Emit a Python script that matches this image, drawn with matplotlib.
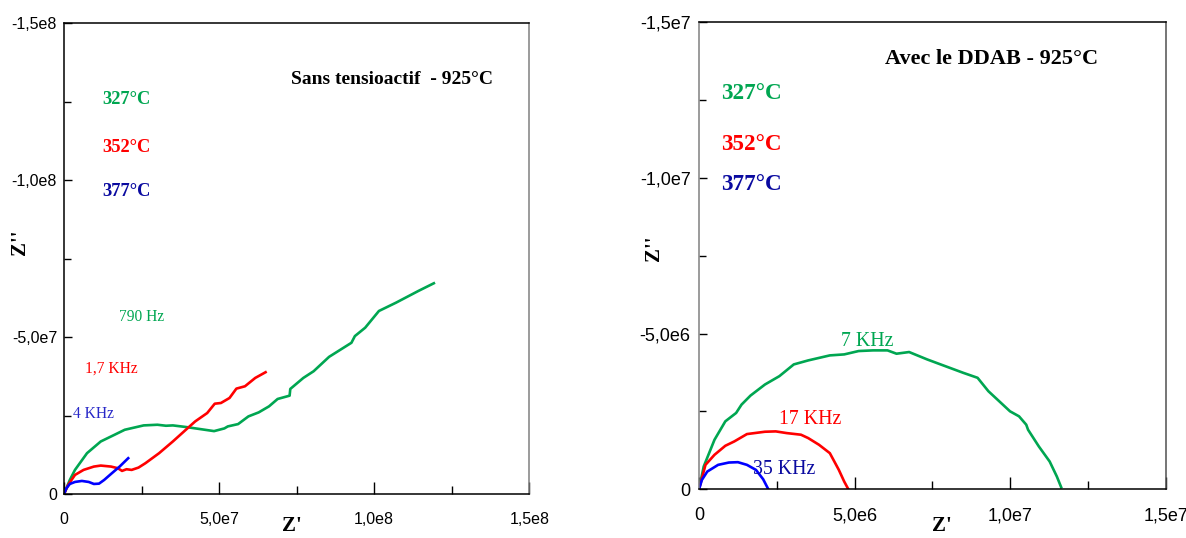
import matplotlib
matplotlib.use("Agg")
import matplotlib.pyplot as plt
from matplotlib.ticker import FuncFormatter, MultipleLocator
import numpy as np

# ---------------- data (units: 1e6 ohm) ----------------
# Left panel: "Sans tensioactif - 925°C"
L_green_x = [0, 1.88, 3.54, 7.42, 11.85, 16.28, 19.59, 25.68, 30.11, 32.88, 35.09, 39.52, 43.95,
             48.38, 51.70, 52.81, 56.13, 59.45, 62.77, 66.09, 68.86, 72.73, 72.95, 77.16, 80.48,
             85.46, 92.66, 93.77, 97.09, 101.52, 107.05, 114.25, 119.23]
L_green_y = [0, 4.48, 7.68, 13.01, 16.74, 18.87, 20.47, 21.86, 22.07, 21.75, 21.86, 21.32, 20.68,
             20.04, 20.90, 21.54, 22.28, 24.73, 26.01, 27.93, 30.28, 31.34, 33.48, 36.99, 39.13,
             43.71, 48.19, 50.32, 52.99, 58.32, 60.98, 64.71, 67.16]
L_red_x = [0, 1.33, 3.54, 6.31, 9.63, 11.85, 15.17, 17.38, 18.71, 20.15, 21.81, 24.02, 26.24,
           30.66, 35.09, 39.52, 42.29, 46.16, 48.60, 50.59, 53.36, 55.57, 58.34, 61.66, 64.98]
L_red_y = [0, 2.88, 6.08, 7.68, 8.74, 9.06, 8.74, 8.21, 7.36, 7.89, 7.68, 8.42, 9.81,
           13.01, 16.74, 20.68, 23.13, 25.80, 28.78, 29.00, 30.60, 33.58, 34.33, 36.99, 38.81]
L_blue_x = [0, 0.77, 1.88, 3.54, 5.76, 7.97, 9.63, 11.29, 12.95, 15.17, 17.93, 20.70]
L_blue_y = [0, 1.81, 3.20, 3.84, 4.16, 3.84, 3.20, 3.30, 4.48, 6.40, 8.74, 11.41]

# Right panel: "Avec le DDAB - 925°C"
R_green_x = [0, 0.151, 0.498, 0.846, 1.193, 1.367, 1.656, 2.120, 2.583, 3.046, 3.510, 4.205,
             4.668, 5.131, 5.595, 6.058, 6.348, 6.753, 7.332, 7.911, 8.491, 8.954, 9.301, 9.649,
             9.996, 10.286, 10.518, 10.576, 10.923, 11.271, 11.502, 11.641]
R_green_y = [0, 0.731, 1.591, 2.183, 2.452, 2.720, 3.011, 3.366, 3.634, 4.011, 4.140, 4.301,
             4.333, 4.441, 4.462, 4.462, 4.355, 4.409, 4.172, 3.957, 3.742, 3.581, 3.151, 2.828,
             2.505, 2.344, 2.075, 1.914, 1.376, 0.892, 0.409, 0.065]
R_red_x = [0, 0.208, 0.498, 0.846, 1.135, 1.541, 2.120, 2.467, 2.815, 3.278, 3.510, 3.857,
           4.205, 4.321, 4.494, 4.668, 4.784]
R_red_y = [0, 0.785, 1.108, 1.398, 1.538, 1.774, 1.849, 1.860, 1.806, 1.753, 1.645, 1.430,
           1.161, 0.946, 0.624, 0.247, 0.032]
R_blue_x = [0, 0.093, 0.266, 0.614, 0.961, 1.251, 1.541, 1.830, 2.062, 2.212]
R_blue_y = [0, 0.301, 0.570, 0.785, 0.860, 0.871, 0.785, 0.624, 0.323, 0.032]

temps = ["327°C", "352°C", "377°C"]
left_freqs = ["790 Hz", "1,7 KHz", "4 KHz"]
right_freqs = ["7 KHz", "17 KHz", "35 KHz"]
titles = ["Sans tensioactif  - 925°C", "Avec le DDAB - 925°C"]

GREEN = "#00A651"
RED = "#FF0000"
BLUE = "#0000FF"
TXT_BLUE = "#0A0AA0"
SERIF = ["Liberation Serif", "DejaVu Serif"]
SANS = ["Liberation Sans", "DejaVu Sans"]

W, H = 1186.0, 538.0


def fx(px):
    return px / W


def fy(py):
    return 1 - py / H


def sci_comma(v, pos=None):
    if abs(v) < 1e-9:
        return "0"
    s = "%.1e" % v
    mant, exp = s.split("e")
    return "%se%d" % (mant.replace(".", ","), int(exp))


fig = plt.figure(figsize=(11.86, 5.38), dpi=100)
# axes boxes in pixel coords: (left, top, right, bottom)
ax1 = fig.add_axes([fx(64), fy(494), (529.3 - 64) / W, (494 - 23.3) / H])
ax2 = fig.add_axes([fx(699), fy(489.3), (1165.7 - 699) / W, (489.3 - 22.3) / H])


def style(ax, xmax, major, minor, labelsize, ypad, grey_side):
    ax.set_xlim(0, xmax)
    ax.set_ylim(0, -xmax)
    ax.xaxis.set_major_locator(MultipleLocator(major))
    ax.xaxis.set_minor_locator(MultipleLocator(minor))
    ax.yaxis.set_major_locator(MultipleLocator(major))
    ax.yaxis.set_minor_locator(MultipleLocator(minor))
    ax.xaxis.set_major_formatter(FuncFormatter(sci_comma))
    ax.yaxis.set_major_formatter(FuncFormatter(sci_comma))
    ax.tick_params(which="both", direction="in", width=1.0, color="black")
    ax.tick_params(axis="x", which="major", length=9, pad=13, labelsize=labelsize)
    ax.tick_params(axis="x", which="minor", length=5.5)
    ax.tick_params(axis="y", which="major", length=6, pad=ypad, labelsize=labelsize)
    ax.tick_params(axis="y", which="minor", length=5)
    for lab in ax.get_xticklabels() + ax.get_yticklabels():
        lab.set_family(SANS)
    for sp in ["left", "right", "bottom", "top"]:
        ax.spines[sp].set_linewidth(1.1)
        ax.spines[sp].set_color("black")
    ax.spines[grey_side].set_color("#808080")


s = 1e6
LW = 1.9
ax1.plot(np.array(L_green_x) * s, -np.array(L_green_y) * s, color=GREEN, lw=LW)
ax1.plot(np.array(L_red_x) * s, -np.array(L_red_y) * s, color=RED, lw=LW)
ax1.plot(np.array(L_blue_x) * s, -np.array(L_blue_y) * s, color=BLUE, lw=LW)
style(ax1, 1.5e8, 5e7, 2.5e7, 11.5, 5, "right")

ax2.plot(np.array(R_green_x) * s, -np.array(R_green_y) * s, color=GREEN, lw=LW)
ax2.plot(np.array(R_red_x) * s, -np.array(R_red_y) * s, color=RED, lw=LW)
ax2.plot(np.array(R_blue_x) * s, -np.array(R_blue_y) * s, color=BLUE, lw=LW)
style(ax2, 1.5e7, 5e6, 2.5e6, 13, 6, "left")
ax2.spines["right"].set_color("#505050")

temp_colors = [GREEN, RED, TXT_BLUE]

# Left panel texts
fig.text(fx(392), fy(79), titles[0], family=SERIF, weight="bold", fontsize=14,
         ha="center", va="center")
for t, c, py in zip(temps, temp_colors, [100, 147, 192]):
    fig.text(fx(102), fy(py), t, family=SERIF, weight="bold", fontsize=13.3, color=c,
             ha="left", va="center")
for t, c, (px, py) in zip(left_freqs, [GREEN, RED, "#2828C8"],
                          [(119, 317), (85, 369), (73, 414)]):
    fig.text(fx(px), fy(py), t, family=SERIF, fontsize=11.2, color=c, ha="left", va="center")

# Right panel texts
fig.text(fx(992), fy(59), titles[1], family=SERIF, weight="bold", fontsize=16,
         ha="center", va="center")
for t, c, py in zip(temps, temp_colors, [93, 144, 185]):
    fig.text(fx(721), fy(py), t, family=SERIF, weight="bold", fontsize=16.7, color=c,
             ha="left", va="center")
for t, c, (px, py) in zip(right_freqs, [GREEN, RED, TXT_BLUE],
                          [(841, 342), (779, 419), (753, 469)]):
    fig.text(fx(px), fy(py), t, family=SERIF, fontsize=14.3, color=c, ha="left", va="center")

# Axis labels
fig.text(fx(292), fy(536), "Z'", family=SERIF, weight="bold", fontsize=15, ha="center",
         va="bottom")
fig.text(fx(942), fy(536), "Z'", family=SERIF, weight="bold", fontsize=15, ha="center",
         va="bottom")
fig.text(fx(20), fy(242), "Z''", family=SERIF, weight="bold", fontsize=15, ha="center",
         va="center", rotation=90)
fig.text(fx(654), fy(248), "Z''", family=SERIF, weight="bold", fontsize=15, ha="center",
         va="center", rotation=90)

fig.savefig("out.png", dpi=100)
